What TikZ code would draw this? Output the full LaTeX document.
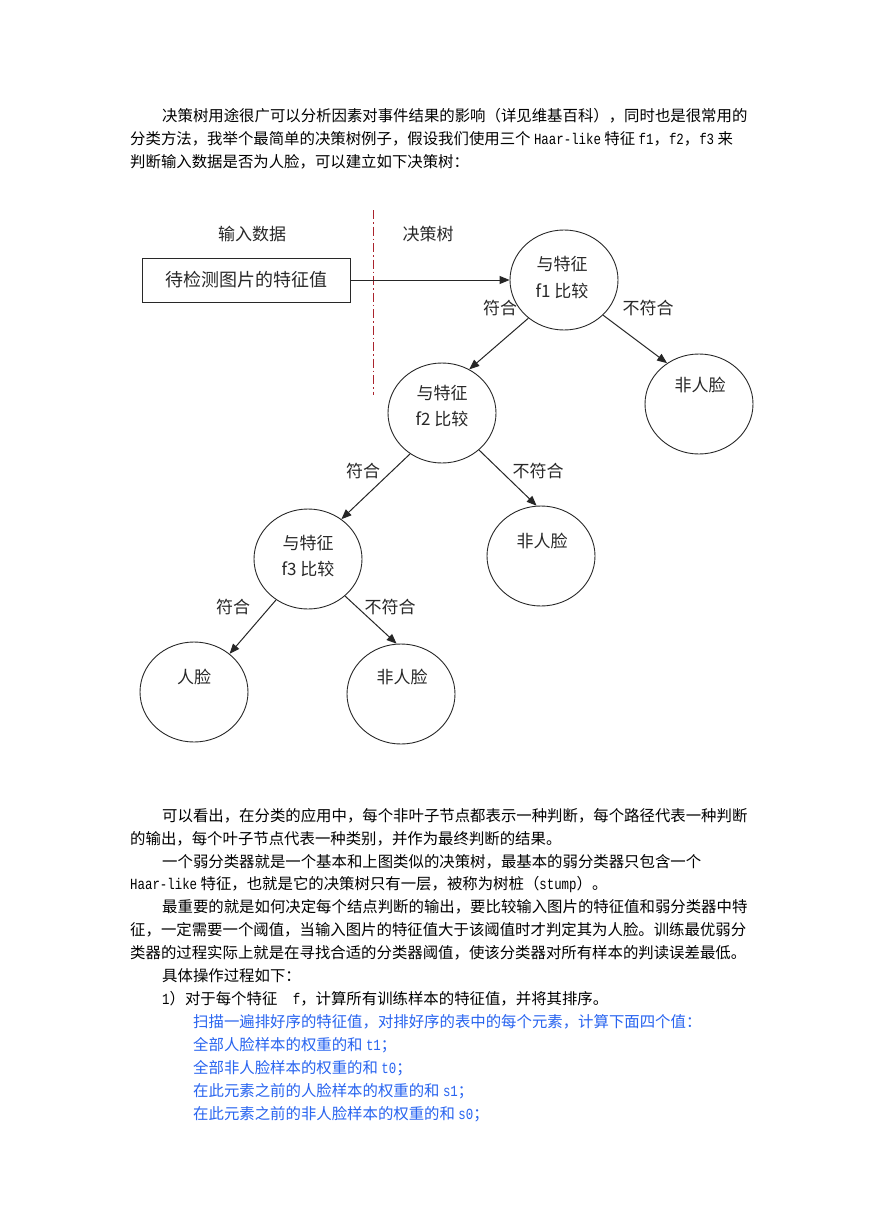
\documentclass[tikz,border=0pt]{standalone}
\usepackage{fontspec}
\setmainfont{Noto Sans CJK SC}
\newfontfamily\latfont[FakeStretch=0.8]{Liberation Mono}
\usetikzlibrary{shapes.geometric,arrows.meta}
\definecolor{sepred}{RGB}{170,35,45}
\definecolor{bluetxt}{RGB}{40,100,240}
\definecolor{ink}{RGB}{40,40,40}
\newcommand\latn[1]{{\latfont\fontsize{15.5}{18}\selectfont #1}}
\begin{document}
\begin{tikzpicture}[x=1pt,y=-1pt,
  body/.style={anchor=west,inner sep=0,font=\fontsize{15.4}{18}\selectfont},
  bodyb/.style={body,text=bluetxt},
  lbl/.style={inner sep=0,font=\fontsize{17}{20}\selectfont,text=ink},
  nd/.style={draw=ink,line width=0.9pt,ellipse,minimum width=108pt,minimum height=100pt,inner sep=0},
  boxs/.style={draw=ink,line width=0.9pt,minimum width=208pt,minimum height=44pt,inner sep=0,font=\fontsize{18}{20}\selectfont,text=ink},
  arr/.style={draw=black!85,line width=1pt,-{Triangle[length=10pt,width=8pt]}},
]
\useasboundingbox (0,0) rectangle (869,1228);
\fill[white] (0,0) rectangle (869,1228);

% top text
\node[body] (t1) at (162,116) {决策树用途很广可以分析因素对事件结果的影响（详见维基百科），同时也是很常用的};
\node[body] (t2) at (130,139) {分类方法，我举个最简单的决策树例子，假设我们使用三个 \latn{Haar-like} 特征 \latn{f1}，\latn{f2}，\latn{f3} 来};
\node[body] (t3) at (130,162) {判断输入数据是否为人脸，可以建立如下决策树：};

% diagram
\node[lbl] (hin) at (252,234) {输入数据};
\node[lbl] (htree) at (428,234) {决策树};
\draw[sepred,line width=0.9pt,dash pattern=on 9pt off 3pt on 1.5pt off 3pt] (373,210) -- (373,395);

\node[boxs] (box) at (246,280) {待检测图片的特征值};

\node[nd] (f1) at (564,280) {};
\node[lbl] (f1a) at (562,264) {与特征};
\node[lbl] (f1b) at (562,291) {f1 比较};

\node[nd] (nr1) at (699,404) {};
\node[lbl] (nr1t) at (700,385) {非人脸};

\node[nd] (f2) at (442,413) {};
\node[lbl] (f2a) at (442,393) {与特征};
\node[lbl] (f2b) at (442,419) {f2 比较};

\node[nd] (nr2) at (541,556) {};
\node[lbl] (nr2t) at (542,541) {非人脸};

\node[nd] (f3) at (308,559) {};
\node[lbl] (f3a) at (308,543) {与特征};
\node[lbl] (f3b) at (308,569) {f3 比较};

\node[nd] (rl) at (194,692) {};
\node[lbl] (rlt) at (194,677) {人脸};

\node[nd] (nr3) at (401,694) {};
\node[lbl] (nr3t) at (402,677) {非人脸};

\draw[arr] (box.east) -- (f1.west);
\draw[arr] (f1.-133) -- (f2.58);
\draw[arr] (f1.-42) -- (nr1.128);
\draw[arr] (f2.-128) -- (f3.50);
\draw[arr] (f2.-45) -- (nr2.95);
\draw[arr] (f3.-128) -- (rl.47);
\draw[arr] (f3.-45) -- (nr3.95);

\node[lbl] (y1) at (500,308) {符合};
\node[lbl] (n1) at (648,308) {不符合};
\node[lbl] (y2) at (363,471) {符合};
\node[lbl] (n2) at (538,471) {不符合};
\node[lbl] (y3) at (233,607) {符合};
\node[lbl] (n3) at (390,607) {不符合};

% bottom text
\node[body] (b1) at (162,816) {可以看出，在分类的应用中，每个非叶子节点都表示一种判断，每个路径代表一种判断};
\node[body] (b2) at (130,839) {的输出，每个叶子节点代表一种类别，并作为最终判断的结果。};
\node[body] (b3) at (162,862) {一个弱分类器就是一个基本和上图类似的决策树，最基本的弱分类器只包含一个};
\node[body] (b4) at (130,885) {\latn{Haar-like} 特征，也就是它的决策树只有一层，被称为树桩（\latn{stump}）。};
\node[body] (b5) at (162,907) {最重要的就是如何决定每个结点判断的输出，要比较输入图片的特征值和弱分类器中特};
\node[body] (b6) at (130,930) {征，一定需要一个阈值，当输入图片的特征值大于该阈值时才判定其为人脸。训练最优弱分};
\node[body] (b7) at (130,953) {类器的过程实际上就是在寻找合适的分类器阈值，使该分类器对所有样本的判读误差最低。};
\node[body] (b8) at (162,976) {具体操作过程如下：};
\node[body] (b9) at (162,999) {\latn{1}）对于每个特征　\latn{f}，计算所有训练样本的特征值，并将其排序。};
\node[bodyb] (c1) at (193,1022) {扫描一遍排好序的特征值，对排好序的表中的每个元素，计算下面四个值：};
\node[bodyb] (c2) at (193,1045) {全部人脸样本的权重的和 \latn{t1}；};
\node[bodyb] (c3) at (193,1068) {全部非人脸样本的权重的和 \latn{t0}；};
\node[bodyb] (c4) at (193,1091) {在此元素之前的人脸样本的权重的和 \latn{s1}；};
\node[bodyb] (c5) at (193,1114) {在此元素之前的非人脸样本的权重的和 \latn{s0}；};
\end{tikzpicture}
\end{document}
